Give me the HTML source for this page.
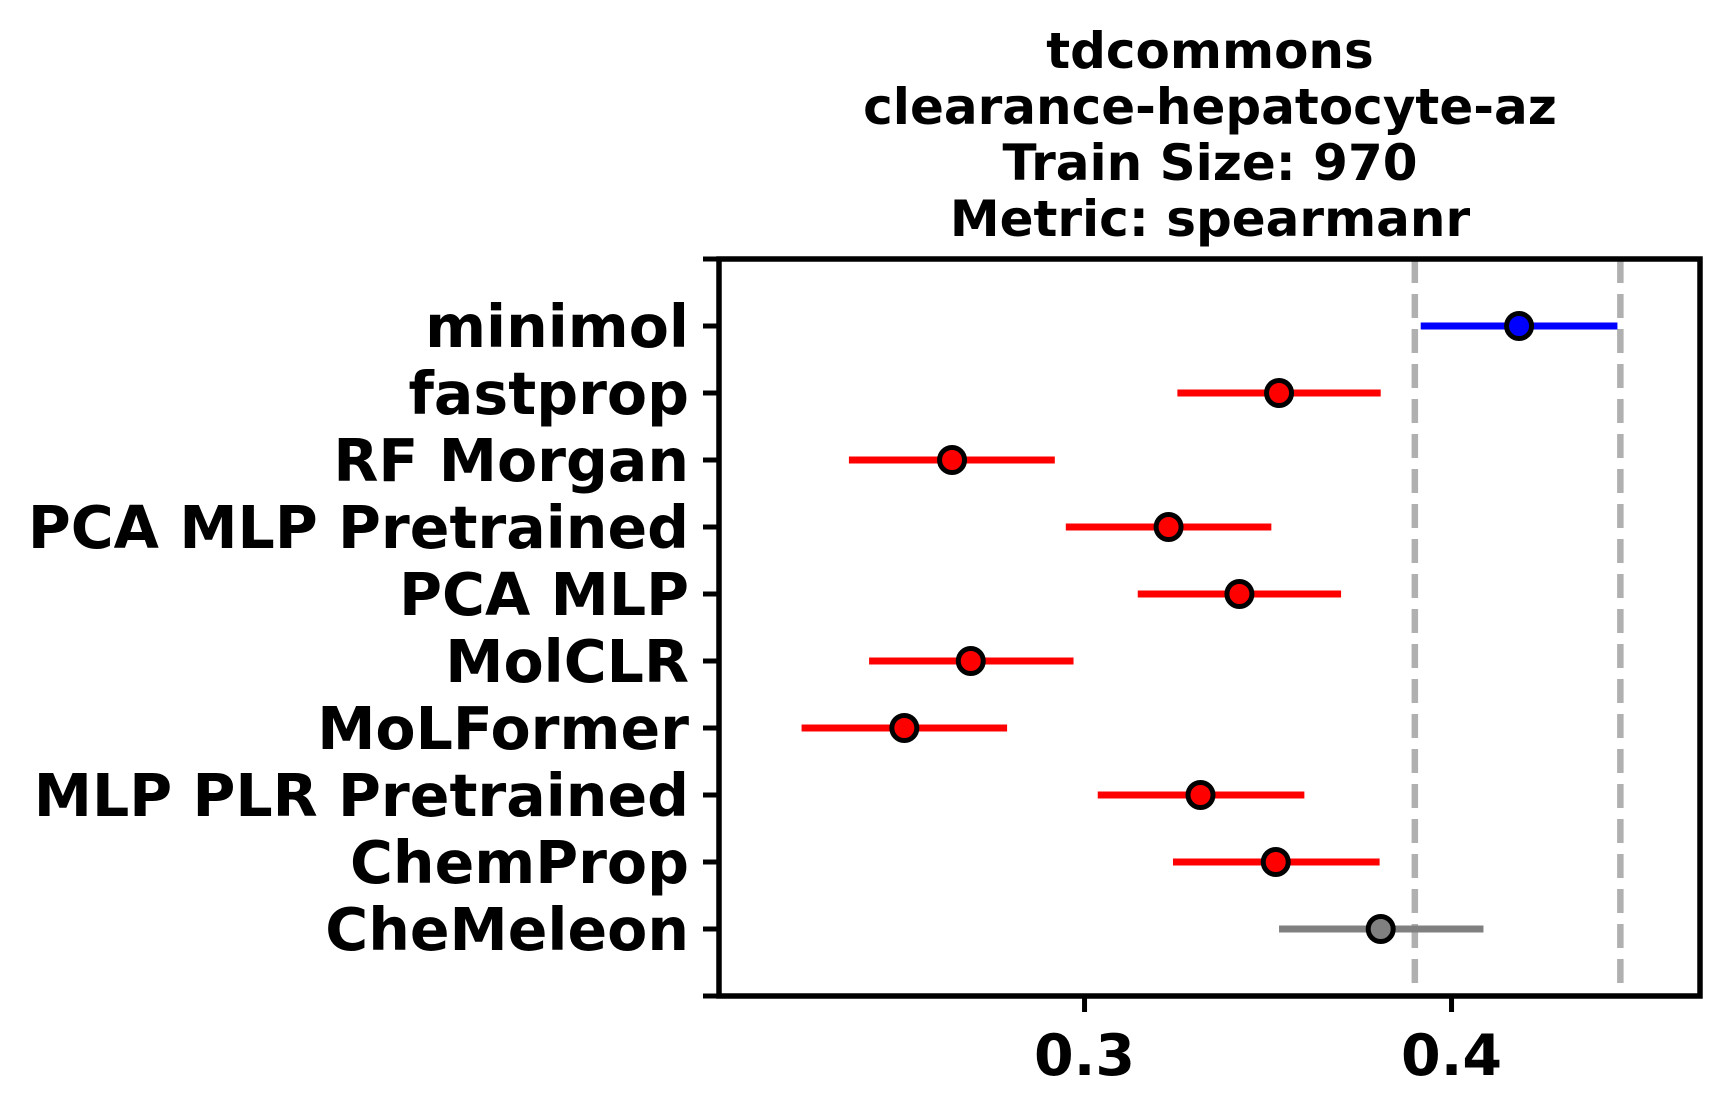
<!DOCTYPE html>
<html><head><meta charset="utf-8"><style>
html,body{margin:0;padding:0;background:#fff;}
svg{display:block;font-family:"DejaVu Sans","Liberation Sans",sans-serif;font-weight:bold;}
</style></head><body>
<svg id="chart" width="1733" height="1109" viewBox="0 0 1733 1109">
<g font-size="50" text-anchor="middle" fill="#000">
<text x="1210" y="68">tdcommons</text>
<text x="1210" y="124">clearance-hepatocyte-az</text>
<text x="1210" y="180">Train Size: 970</text>
<text x="1210" y="236">Metric: spearmanr</text>
</g>
<g id="plot"></g>
</svg>
<script>
const models=["minimol","fastprop","RF Morgan","PCA MLP Pretrained","PCA MLP","MolCLR","MoLFormer","MLP PLR Pretrained","ChemProp","CheMeleon"];
const means=[0.4184,0.353,0.2639,0.3229,0.3422,0.269,0.2509,0.3316,0.3521,0.3807];
const lows=[0.3916,0.3253,0.2358,0.2949,0.3145,0.2413,0.2229,0.3036,0.3241,0.353];
const highs=[0.4452,0.3807,0.2919,0.3509,0.3699,0.297,0.2789,0.3599,0.3804,0.4087];
const colors=["#0000ff","#ff0000","#ff0000","#ff0000","#ff0000","#ff0000","#ff0000","#ff0000","#ff0000","#808080"];
const refLines=[0.39,0.446];
const xTicks=[0.3,0.4];
const xTickLabels=["0.3","0.4"];

const L=719,R=1700,T=259,B=996,xMin=0.2004,xMax=0.4677;
const NS="http://www.w3.org/2000/svg";
const g=document.getElementById('plot');
function x(v){return L+(v-xMin)/(xMax-xMin)*(R-L);}
function y(i){return T+(i+1)*(B-T)/(models.length+1);}
function mk(tag,attrs,parent){const e=document.createElementNS(NS,tag);for(const k in attrs)e.setAttribute(k,attrs[k]);(parent||g).appendChild(e);return e;}

refLines.forEach((v,i)=>{
 const l=mk('line',{x1:x(v),x2:x(v),y1:T,y2:B,stroke:'#b0b0b0','stroke-width':6.5,'stroke-dasharray':'24,11'});
 
 
});
models.forEach((m,i)=>{
 const cy=y(i);
 const el=mk('line',{x1:x(lows[i]),x2:x(highs[i]),y1:cy,y2:cy,stroke:colors[i],'stroke-width':7});
 
 
 const c=mk('circle',{cx:x(means[i]),cy:cy,r:12.5,fill:colors[i],stroke:'#000','stroke-width':5});
 
 
 const t=mk('line',{x1:L-16,x2:L,y1:cy,y2:cy,stroke:'#000','stroke-width':5});
 
 
 const lb=mk('text',{x:689,y:cy+21,'font-size':58.5,'text-anchor':'end',fill:'#000'});
 lb.textContent=m;
 
 
});
[T,B].forEach(v=>{
 const t=mk('line',{x1:L-16,x2:L,y1:v,y2:v,stroke:'#000','stroke-width':5});
 
 
});
xTicks.forEach((v,i)=>{
 const t=mk('line',{x1:x(v),x2:x(v),y1:B,y2:B+16,stroke:'#000','stroke-width':5});
 
 
 const lb=mk('text',{x:x(v),y:1075,'font-size':57,'text-anchor':'middle',fill:'#000'});
 lb.textContent=xTickLabels[i];
 
 
});
const frame=mk('rect',{x:L,y:T,width:R-L,height:B-T,fill:'none',stroke:'#000','stroke-width':5.5});


</script>
</body></html>
